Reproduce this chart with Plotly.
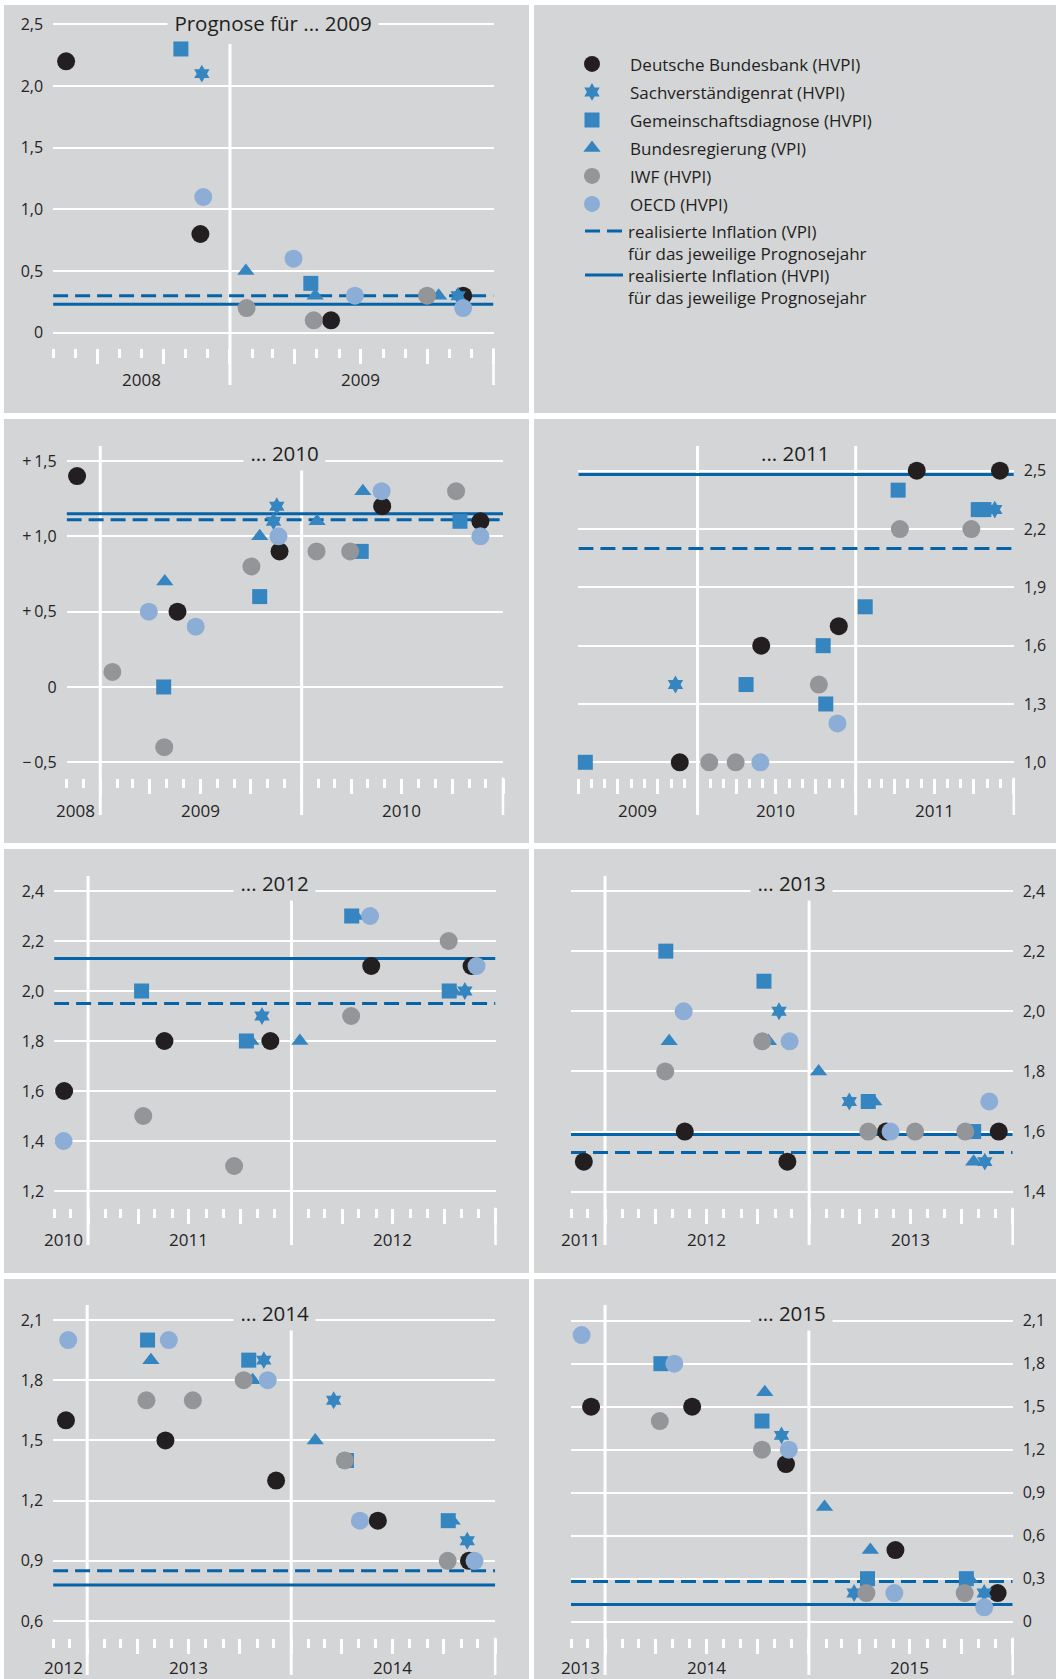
import plotly.graph_objects as go

W, H = 1056, 1679

# ---------------------------------------------------------------- data
PANEL_TITLES = ["Prognose für ... 2009", "... 2010", "... 2011", "... 2012",
                "... 2013", "... 2014", "... 2015"]
X_START = ["2008-05-01", "2008-11-01", "2009-04-01", "2010-11-01",
           "2011-11-01", "2012-11-01", "2013-11-01"]
X_END = ["2010-01-01", "2011-01-01", "2012-01-01", "2013-01-01",
         "2014-01-01", "2015-01-01", "2016-01-01"]
YEAR_STARTS = [["2009-01-01"], ["2009-01-01", "2010-01-01"],
               ["2010-01-01", "2011-01-01"], ["2011-01-01", "2012-01-01"],
               ["2012-01-01", "2013-01-01"], ["2013-01-01", "2014-01-01"],
               ["2014-01-01", "2015-01-01"]]

# realised inflation for the respective forecast year
REAL_VPI = [0.30, 1.11, 2.10, 1.95, 1.53, 0.85, 0.28]
REAL_HVPI = [0.23, 1.15, 2.48, 2.13, 1.59, 0.78, 0.12]

# y-axis ticks
Y_TICKS = [[0, 0.5, 1.0, 1.5, 2.0, 2.5],
           [-0.5, 0, 0.5, 1.0, 1.5],
           [1.0, 1.3, 1.6, 1.9, 2.2, 2.5],
           [1.2, 1.4, 1.6, 1.8, 2.0, 2.2, 2.4],
           [1.4, 1.6, 1.8, 2.0, 2.2, 2.4],
           [0.6, 0.9, 1.2, 1.5, 1.8, 2.1],
           [0, 0.3, 0.6, 0.9, 1.2, 1.5, 1.8, 2.1]]
Y_LABELS = [["0", "0,5", "1,0", "1,5", "2,0", "2,5"],
            ["\u2212\u20090,5", "0", "+\u20090,5", "+\u20091,0", "+\u20091,5"],
            ["1,0", "1,3", "1,6", "1,9", "2,2", "2,5"],
            ["1,2", "1,4", "1,6", "1,8", "2,0", "2,2", "2,4"],
            ["1,4", "1,6", "1,8", "2,0", "2,2", "2,4"],
            ["0,6", "0,9", "1,2", "1,5", "1,8", "2,1"],
            ["0", "0,3", "0,6", "0,9", "1,2", "1,5", "1,8", "2,1"]]

# year labels under the x axes: (text, position)
YEAR_LABELS = [[("2008", "2008-09-01"), ("2009", "2009-07-01")],
               [("2008", "2008-11-17"), ("2009", "2009-07-01"), ("2010", "2010-07-01")],
               [("2009", "2009-08-16"), ("2010", "2010-07-01"), ("2011", "2011-07-01")],
               [("2010", "2010-11-18"), ("2011", "2011-07-01"), ("2012", "2012-07-01")],
               [("2011", "2011-11-18"), ("2012", "2012-07-01"), ("2013", "2013-07-01")],
               [("2012", "2012-11-19"), ("2013", "2013-07-01"), ("2014", "2014-07-01")],
               [("2013", "2013-11-18"), ("2014", "2014-07-01"), ("2015", "2015-07-01")]]

# forecasts: (date of forecast, forecast value)
BBK_2009 = [("2008-05-19", 2.2), ("2008-11-21", 0.8), ("2009-05-21", 0.1), ("2009-11-20", 0.3)]
SVR_2009 = [("2008-11-23", 2.1), ("2009-11-13", 0.3)]
GD_2009 = [("2008-10-25", 2.3), ("2009-04-23", 0.4)]
BREG_2009 = [("2009-01-23", 0.5), ("2009-04-29", 0.3), ("2009-10-17", 0.3)]
IWF_2009 = [("2009-01-24", 0.2), ("2009-04-27", 0.1), ("2009-10-01", 0.3)]
OECD_2009 = [("2008-11-25", 1.1), ("2009-03-30", 0.6), ("2009-06-23", 0.3), ("2009-11-20", 0.2)]

BBK_2010 = [("2008-11-20", 1.4), ("2009-05-21", 0.5), ("2009-11-22", 0.9),
            ("2010-05-27", 1.2), ("2010-11-21", 1.1)]
SVR_2010 = [("2009-11-17", 1.2), ("2009-11-11", 1.1)]
GD_2010 = [("2009-04-26", 0.0), ("2009-10-17", 0.6), ("2010-04-19", 0.9), ("2010-10-15", 1.1)]
BREG_2010 = [("2009-04-28", 0.7), ("2009-10-17", 1.0), ("2010-01-29", 1.1), ("2010-04-22", 1.3)]
IWF_2010 = [("2009-01-23", 0.1), ("2009-04-27", -0.4), ("2009-10-02", 0.8),
            ("2010-01-28", 0.9), ("2010-03-30", 0.9), ("2010-10-08", 1.3)]
OECD_2010 = [("2009-03-30", 0.5), ("2009-06-23", 0.4), ("2009-11-20", 1.0),
             ("2010-05-26", 1.3), ("2010-11-21", 1.0)]

BBK_2011 = [("2009-11-21", 1.0), ("2010-05-28", 1.6), ("2010-11-23", 1.7),
            ("2011-05-22", 2.5), ("2011-11-30", 2.5)]
SVR_2011 = [("2009-11-11", 1.4), ("2011-11-18", 2.3)]
GD_2011 = [("2009-04-17", 1.0), ("2010-04-23", 1.4), ("2010-10-18", 1.6), ("2010-10-24", 1.3),
           ("2011-01-23", 1.8), ("2011-04-09", 2.4), ("2011-10-11", 2.3), ("2011-10-24", 2.3)]
BREG_2011 = []
IWF_2011 = [("2010-01-28", 1.0), ("2010-03-30", 1.0), ("2010-10-08", 1.4),
            ("2011-04-13", 2.2), ("2011-09-25", 2.2)]
OECD_2011 = [("2010-05-26", 1.0), ("2010-11-20", 1.2)]

BBK_2012 = [("2010-11-19", 1.6), ("2011-05-18", 1.8), ("2011-11-24", 1.8),
            ("2012-05-23", 2.1), ("2012-11-19", 2.1)]
SVR_2012 = [("2011-11-09", 1.9), ("2012-11-07", 2.0)]
GD_2012 = [("2011-04-07", 2.0), ("2011-10-12", 1.8), ("2012-04-18", 2.3), ("2012-10-10", 2.0)]
BREG_2012 = [("2011-10-20", 1.8), ("2012-01-16", 1.8), ("2012-04-25", 2.3), ("2012-10-17", 2.0)]
IWF_2012 = [("2011-04-10", 1.5), ("2011-09-20", 1.3), ("2012-04-17", 1.9), ("2012-10-09", 2.2)]
OECD_2012 = [("2010-11-18", 1.4), ("2012-05-21", 2.3), ("2012-11-28", 2.1)]

BBK_2013 = [("2011-11-24", 1.5), ("2012-05-23", 1.6), ("2012-11-23", 1.5),
            ("2013-05-19", 1.6), ("2013-12-07", 1.6)]
SVR_2013 = [("2012-11-08", 2.0), ("2013-03-14", 1.7), ("2013-11-12", 1.5)]
GD_2013 = [("2012-04-19", 2.2), ("2012-10-12", 2.1), ("2013-04-17", 1.7), ("2013-10-23", 1.6)]
BREG_2013 = [("2012-04-25", 1.9), ("2012-10-20", 1.9), ("2013-01-18", 1.8),
             ("2013-04-27", 1.7), ("2013-10-23", 1.5)]
IWF_2013 = [("2012-04-18", 1.8), ("2012-10-09", 1.9), ("2013-04-17", 1.6),
            ("2013-07-10", 1.6), ("2013-10-08", 1.6)]
OECD_2013 = [("2012-05-21", 2.0), ("2012-11-27", 1.9), ("2013-05-27", 1.6), ("2013-11-20", 1.7)]

BBK_2014 = [("2012-11-24", 1.6), ("2013-05-21", 1.5), ("2013-12-05", 1.3),
            ("2014-06-05", 1.1), ("2014-11-15", 0.9)]
SVR_2014 = [("2013-11-13", 1.9), ("2014-03-18", 1.7), ("2014-11-12", 1.0)]
GD_2014 = [("2013-04-19", 2.0), ("2013-10-17", 1.9), ("2014-04-10", 1.4), ("2014-10-09", 1.1)]
BREG_2014 = [("2013-04-25", 1.9), ("2013-10-24", 1.8), ("2014-02-13", 1.5), ("2014-10-16", 1.1)]
IWF_2014 = [("2013-04-17", 1.7), ("2013-07-09", 1.7), ("2013-10-08", 1.8),
            ("2014-04-07", 1.4), ("2014-10-08", 0.9)]
OECD_2014 = [("2012-11-28", 2.0), ("2013-05-27", 2.0), ("2013-11-20", 1.8),
             ("2014-05-04", 1.1), ("2014-11-25", 0.9)]

BBK_2015 = [("2013-12-07", 1.5), ("2014-06-06", 1.5), ("2014-11-21", 1.1),
            ("2015-06-05", 0.5), ("2015-12-05", 0.2)]
SVR_2015 = [("2014-11-13", 1.3), ("2015-03-23", 0.2), ("2015-11-11", 0.2)]
GD_2015 = [("2014-04-11", 1.8), ("2014-10-09", 1.4), ("2015-04-16", 0.3), ("2015-10-10", 0.3)]
BREG_2015 = [("2014-10-14", 1.6), ("2015-01-29", 0.8), ("2015-04-21", 0.5), ("2015-10-16", 0.3)]
IWF_2015 = [("2014-04-09", 1.4), ("2014-10-09", 1.2), ("2015-04-14", 0.2), ("2015-10-07", 0.2)]
OECD_2015 = [("2013-11-20", 2.0), ("2014-05-05", 1.8), ("2014-11-26", 1.2),
             ("2015-06-03", 0.2), ("2015-11-11", 0.1)]

DATA = {
    "bbk": [BBK_2009, BBK_2010, BBK_2011, BBK_2012, BBK_2013, BBK_2014, BBK_2015],
    "svr": [SVR_2009, SVR_2010, SVR_2011, SVR_2012, SVR_2013, SVR_2014, SVR_2015],
    "gd": [GD_2009, GD_2010, GD_2011, GD_2012, GD_2013, GD_2014, GD_2015],
    "breg": [BREG_2009, BREG_2010, BREG_2011, BREG_2012, BREG_2013, BREG_2014, BREG_2015],
    "iwf": [IWF_2009, IWF_2010, IWF_2011, IWF_2012, IWF_2013, IWF_2014, IWF_2015],
    "oecd": [OECD_2009, OECD_2010, OECD_2011, OECD_2012, OECD_2013, OECD_2014, OECD_2015],
}

# ---------------------------------------------------------------- styles
PANEL_GRAY = "#d4d5d7"
BLUE = "#3585c1"
LINE_BLUE = "#0563a8"
TEXT = "#231f20"
FONT = "Open Sans"

LEG_VPI = "realisierte Inflation (VPI)<br>für das jeweilige Prognosejahr"
LEG_HVPI = "realisierte Inflation (HVPI)<br>für das jeweilige Prognosejahr"

# draw order (bottom -> top); legendrank gives legend order
SERIES = [
    ("bbk", "Deutsche Bundesbank (HVPI)", "circle", 18, "#231f20", 1),
    ("breg", "Bundesregierung (VPI)", "triangle-up", 15, BLUE, 4),
    ("gd", "Gemeinschaftsdiagnose (HVPI)", "square", 15, BLUE, 3),
    ("svr", "Sachverständigenrat (HVPI)", "hexagram", 13.5, BLUE, 2),
    ("iwf", "IWF (HVPI)", "circle", 18, "#949598", 5),
    ("oecd", "OECD (HVPI)", "circle", 18, "#8cadd6", 6),
]

# gray panels (x0, y0, x1, y1) in pixels
PANELS = [(4, 5, 529, 413), (534, 5, 1056, 413),
          (4, 419, 529, 843), (534, 419, 1056, 843),
          (4, 849, 529, 1273), (534, 849, 1056, 1273),
          (4, 1279, 529, 1679), (534, 1279, 1056, 1679)]

# subplot geometry in pixels:
# x0, x1, top, bottom, (value, px), (value, px), side, title centre, title box?,
# year-line tops, line bottom, year label y
BOXES = [
    (53.1, 493.5, 20, 348.3, (2.5, 24.3), (0, 332.7), "left", (273, 23), True, [44], 385, 380),
    (66.6, 503.0, 455, 777.7, (1.5, 461), (-0.5, 762.3), "left", (284.6, 453.3), True, [446, 469], 815, 811),
    (578.4, 1013.8, 455, 777.7, (2.5, 470.7), (1.0, 762.3), "right", (795.4, 453.3), False, [446, 446], 815, 811),
    (54.1, 495.5, 885, 1207.7, (2.4, 891), (1.2, 1191), "left", (274.5, 883.3), True, [876, 899], 1245, 1239.6),
    (571.0, 1012.7, 885, 1207.7, (2.4, 891), (1.4, 1191.7), "right", (791.7, 883.3), True, [876, 899], 1245, 1239.6),
    (53.1, 495.2, 1314, 1637.7, (2.1, 1320), (0.6, 1621), "left", (274.5, 1313.3), True, [1305, 1328], 1675, 1667),
    (571.0, 1012.7, 1314, 1637.7, (2.1, 1320.7), (0.0, 1621.7), "right", (791.7, 1313.3), True, [1305, 1328], 1675, 1667),
]


def py(p):
    return 1 - p / H


fig = go.Figure()
shapes = []
annotations = []
layout_axes = {}

for (x0, y0, x1, y1) in PANELS:
    shapes.append(dict(type="rect", xref="paper", yref="paper", x0=x0 / W, x1=x1 / W,
                       y0=py(y1), y1=py(y0), fillcolor=PANEL_GRAY, line=dict(width=0),
                       layer="below"))

for k, box in enumerate(BOXES):
    (bx0, bx1, top, bot, (va, pa), (vb, pb), side, (tcx, tcy), tbox,
     ytops, lbot, ylab) = box
    sfx = "" if k == 0 else str(k + 1)
    xa, ya = "x" + sfx, "y" + sfx
    u = (pb - pa) / (va - vb)
    r0 = va - (bot - pa) / u
    r1 = va + (pa - top) / u

    layout_axes["xaxis" + sfx] = dict(
        type="date", domain=[bx0 / W, bx1 / W], range=[X_START[k], X_END[k]], anchor=ya,
        showgrid=False, zeroline=False, showline=False, showticklabels=False,
        ticks="outside", ticklen=15, tickwidth=2.5, tickcolor="white",
        dtick="M3", tick0="2000-01-01", automargin=False,
        minor=dict(ticks="outside", ticklen=9, tickwidth=2.5, tickcolor="white",
                   dtick="M1", tick0="2000-01-01", showgrid=False),
        fixedrange=True)
    layout_axes["yaxis" + sfx] = dict(
        domain=[py(bot), py(top)], range=[r0, r1], anchor=xa, side=side,
        tickmode="array", tickvals=Y_TICKS[k], ticktext=Y_LABELS[k],
        showgrid=True, gridcolor="white", gridwidth=2.2, zeroline=False, showline=False,
        ticks="", ticklabelstandoff=9, tickfont=dict(size=16, color="#262424"),
        automargin=False, fixedrange=True)

    # realised inflation lines
    for vals, dash, rank, name, leg in [(REAL_VPI, "15px,7px", 7, LEG_VPI, "legend2"),
                                        (REAL_HVPI, "solid", 8, LEG_HVPI, "legend3")]:
        fig.add_trace(go.Scatter(
            x=[X_START[k], X_END[k]], y=[vals[k], vals[k]], mode="lines",
            line=dict(color=LINE_BLUE, width=3, dash=dash), name=name,
            legend=leg, legendgroup=name, legendrank=rank, showlegend=(k == 0),
            xaxis=xa, yaxis=ya, hoverinfo="skip"))

    # forecasts
    for key, name, sym, size, col, rank in SERIES:
        pts = DATA[key][k]
        fig.add_trace(go.Scatter(
            x=[p[0] for p in pts], y=[p[1] for p in pts], mode="markers",
            marker=dict(symbol=sym, size=size, color=col, line=dict(width=0)),
            name=name, legend="legend", legendgroup=key, legendrank=rank,
            showlegend=(k == 0), xaxis=xa, yaxis=ya, cliponaxis=False))

    # year boundaries
    for yt, ds in zip(ytops, YEAR_STARTS[k]):
        shapes.append(dict(type="line", xref=xa, yref="paper", x0=ds, x1=ds,
                           y0=py(lbot), y1=py(yt), line=dict(color="white", width=3),
                           layer="below"))
    # right end marker
    shapes.append(dict(type="line", xref=xa + " domain", yref="paper", x0=1, x1=1,
                       y0=py(lbot), y1=py(bot), line=dict(color="white", width=2.5),
                       layer="below"))

    # title (padded so that its background interrupts the top grid line)
    annotations.append(dict(text="\u2009" + PANEL_TITLES[k] + "\u2009" if tbox else PANEL_TITLES[k],
                            xref="paper", yref="paper",
                            x=tcx / W, y=py(tcy), xanchor="center", yanchor="middle",
                            showarrow=False,
                            bgcolor=PANEL_GRAY if tbox else "rgba(0,0,0,0)",
                            borderpad=3 if tbox else 0,
                            font=dict(size=20.5, color=TEXT, family=FONT, weight=500)))
    # year labels
    for txt, pos in YEAR_LABELS[k]:
        annotations.append(dict(text=txt, xref=xa, yref="paper", x=pos, y=py(ylab),
                                xanchor="center", yanchor="middle", showarrow=False,
                                font=dict(size=17, color="#262424", family=FONT)))

LEG_COMMON = dict(xanchor="left", yanchor="top", bgcolor="rgba(0,0,0,0)", borderwidth=0,
                  font=dict(size=17, color=TEXT, family=FONT), traceorder="grouped")

fig.update_layout(
    width=W, height=H, margin=dict(l=0, r=0, t=0, b=0, pad=0, autoexpand=False),
    paper_bgcolor="white", plot_bgcolor="rgba(0,0,0,0)",
    font=dict(family=FONT, color=TEXT),
    shapes=shapes, annotations=annotations,
    showlegend=True,
    legend=dict(x=554 / W, y=py(46.4), tracegroupgap=2.9, itemwidth=66,
                valign="middle", **LEG_COMMON),
    legend2=dict(x=580 / W, y=py(213.4), tracegroupgap=0, itemwidth=38,
                 valign="top", **LEG_COMMON),
    legend3=dict(x=580 / W, y=py(257.4), tracegroupgap=0, itemwidth=38,
                 valign="top", **LEG_COMMON),
    hovermode=False,
    **layout_axes,
)

PAGE_FIX = ("var gd=document.getElementById('{plot_id}');"
            "document.documentElement.style.margin='0';"
            "document.body.style.margin='0';"
            "document.body.style.overflow='hidden';"
            "document.documentElement.style.overflow='hidden';"
            "gd.style.position='absolute';gd.style.left='0px';gd.style.top='0px';")

fig.write_html("out.html", post_script=PAGE_FIX, config={"displayModeBar": False})
